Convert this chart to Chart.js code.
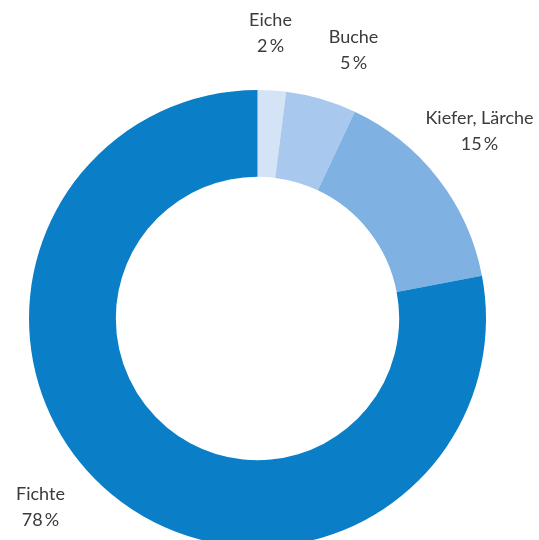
<!DOCTYPE html>
<html>
<head>
<meta charset="utf-8">
<script src="https://cdn.jsdelivr.net/npm/chart.js@4"></script>
<style>
  html, body { margin: 0; padding: 0; background: #fff; overflow: hidden; }
  #wrap { position: relative; width: 539px; height: 560px; }
</style>
</head>
<body>
<div id="wrap"><canvas id="plot"></canvas></div>
<script>
// Baumarten, Anteile in %
const labels = ['Eiche', 'Buche', 'Kiefer, Lärche', 'Fichte']
const values = [2, 5, 15, 78]
const colors = ['#d5e3f6', '#a9c8ee', '#7fb1e2', '#0a7fc7']

// label text position relative to the doughnut centre (px)
const labelOffsets = [[13, -285], [96, -268], [222, -187], [-217, 189]]

const outsideLabels = {
    id: 'outsideLabels',
    afterDatasetsDraw(chart) {
        const ctx = chart.ctx
        const arcs = chart.getDatasetMeta(0).data
        ctx.save()
        ctx.font = '18px Lato'
        ctx.fillStyle = '#3b3b3b'
        ctx.textAlign = 'center'
        ctx.textBaseline = 'middle'
        arcs.forEach((arc, i) => {
            const x = arc.x + labelOffsets[i][0]
            const y = arc.y + labelOffsets[i][1]
            ctx.fillText(labels[i], x, y - 13)
            ctx.fillText(values[i] + '\u2009%', x, y + 13)
        })
        ctx.restore()
    }
}

const data = {
    labels: labels,
    datasets: [{
        data: values,
        backgroundColor: colors,
        borderWidth: 0
    }]
}

const config = {
    type: 'doughnut',
    data: data,
    options: {
        responsive: true,
        maintainAspectRatio: false,
        animation: false,
        cutout: '62%',
        layout: {
            padding: { left: 29, right: 53, top: 90, bottom: 13 }
        },
        plugins: {
            legend: { display: false },
            tooltip: { enabled: false }
        }
    },
    plugins: [outsideLabels]
}

myChart = new Chart(document.getElementById('plot'), config)
</script>
</body>
</html>
